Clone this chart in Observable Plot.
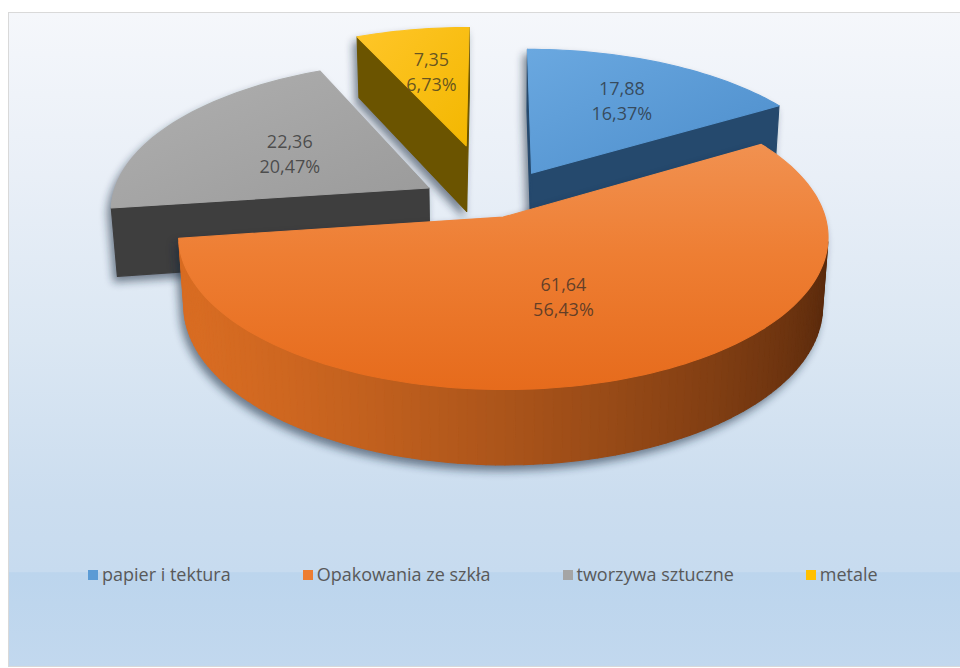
<!DOCTYPE html>
<html>
<head>
<meta charset="utf-8">
<script src="https://cdn.jsdelivr.net/npm/d3@7"></script>
<script src="https://cdn.jsdelivr.net/npm/@observablehq/plot@0.6"></script>
<style>
  html, body { margin: 0; padding: 0; background: #ffffff; }
  #page { position: relative; width: 960px; height: 668px; overflow: hidden; background: #ffffff; font-family: "Open Sans", sans-serif; }
  #frame {
    position: absolute; left: 8px; top: 12px; width: 990px; height: 653px;
    border: 1px solid #d9d9d9;
    background: linear-gradient(to bottom, #f5f7fb 0%, #e9eff7 25%, #dbe7f3 50%, #cbddef 75%, #c7dbef 85.6%, #bcd5ed 85.7%, #c2d8ee 100%);
  }
  #chart { position: absolute; left: 0; top: 0; }
  #legend { position: absolute; left: 88px; top: 562px; display: flex; gap: 72px; font-size: 18px; color: #595959; white-space: nowrap; }
  #legend .item { display: flex; align-items: center; }
  #legend .sw { width: 10px; height: 10px; margin-right: 4px; margin-top: 1px; }
</style>
</head>
<body>
<div id="page">
  <div id="frame"></div>
  <div id="chart"></div>
  <div id="legend"></div>
</div>
<script>
// ---- data ----
const categories = ["papier i tektura", "Opakowania ze szkła", "tworzywa sztuczne", "metale"];
const values = [17.88, 61.64, 22.36, 7.35];

// ---- styles ----
const legendColors = ["#5b9bd5", "#ed7d31", "#a5a5a5", "#ffc000"];
const topFill = ["url(#gBlue)", "url(#gOrange)", "url(#gGrey)", "url(#gYellow)"];
const sideLight = ["#2f5a85", "#d86c22", "#474747", "#7a6100"];
const sideDark = ["#1c3552", "#4f240a", "#2b2b2b", "#4a3b00"];
const radialColor = ["#25496d", "#8c4214", "#3e3e3e", "#6b5400"];
const explode = [0.25, 0.09, 0.235, 0.43];
const labelR = [0.65, 0.52, 0.53, 0.62];
const SHADOW = "#15263a";

// ---- 3D projection setup ----
const ALPHA = 27.5 * Math.PI / 180, SA = Math.sin(ALPHA), CA = Math.cos(ALPHA);
const DIST = 7, FOCAL = 2230, THICK = 0.245, CX = 493, CY = 204, W = 960, H = 540;
const LIGHT = 250 * Math.PI / 180;
const camU = 0, camV = -DIST * CA;

function proj(u, v, z) {
  const depth = DIST + v * CA - z * SA;
  return { x: u / depth, y: (v * SA + z * CA) / depth, depth };
}

const total = d3.sum(values);
const fmt = v => v.toFixed(2).replace(".", ",");
const arcs = d3.pie().sort(null).startAngle(0).endAngle(2 * Math.PI)(values);

const slices = arcs.map((p, i) => {
  const a0 = p.startAngle, a1 = p.endAngle, m = (a0 + a1) / 2;
  const ou = explode[i] * Math.sin(m), ov = explode[i] * Math.cos(m);
  const W3 = (t, r) => [ou + r * Math.sin(t), ov + r * Math.cos(t)];
  const P = (t, r, z) => { const [u, v] = W3(t, r); return proj(u, v, z); };
  const visible = (nAng, pu, pv) => Math.sin(nAng) * (camU - pu) + Math.cos(nAng) * (camV - pv) > 0;
  const faces = [];
  const addRadial = (t, nAng) => {
    const [pu, pv] = W3(t, 0.5);
    if (visible(nAng, pu, pv)) {
      faces.push({ pts: [P(t, 0, 0), P(t, 1, 0), P(t, 1, -THICK), P(t, 0, -THICK)], fill: radialColor[i] });
    }
  };
  addRadial(a0, a0 - Math.PI / 2);
  addRadial(a1, a1 + Math.PI / 2);
  const n = Math.max(6, Math.ceil((a1 - a0) / (Math.PI / 120)));
  const ts = d3.range(n + 1).map(k => a0 + (a1 - a0) * k / n);
  for (let k = 0; k < n; k++) {
    const tm = (ts[k] + ts[k + 1]) / 2;
    const [pu, pv] = W3(tm, 1);
    if (!visible(tm, pu, pv)) continue;
    const lt = (1 + Math.cos(tm - LIGHT)) / 2;
    faces.push({
      pts: [P(ts[k], 1, 0), P(ts[k + 1], 1, 0), P(ts[k + 1], 1, -THICK), P(ts[k], 1, -THICK)],
      fill: d3.interpolateRgb(sideDark[i], sideLight[i])(lt)
    });
  }
  faces.push({ pts: [P(a0, 0, 0), ...ts.map(t => P(t, 1, 0))], fill: topFill[i] });
  const lab = P(m, labelR[i], 0);
  return {
    i, faces, depth: proj(ou, ov, 0).depth, lab,
    text: fmt(values[i]) + "\n" + fmt(values[i] / total * 100) + "%"
  };
});

const order = slices.slice().sort((a, b) => b.depth - a.depth);
const marks = [];
for (const s of order) {
  const rows = [];
  s.faces.forEach((f, k) => f.pts.forEach(pt => rows.push({ id: s.i + "-" + k, x: pt.x, y: pt.y, fill: f.fill })));
  marks.push(Plot.line(rows, { x: "x", y: "y", z: "id", fill: SHADOW, stroke: SHADOW, strokeWidth: 1, curve: "linear-closed" }));
  marks.push(Plot.line(rows, { x: "x", y: "y", z: "id", fill: "fill", stroke: "fill", strokeWidth: 1.1, curve: "linear-closed" }));
}
marks.push(Plot.text(slices, {
  x: d => d.lab.x, y: d => d.lab.y, text: "text",
  fontSize: 18, lineHeight: 1.38, fontFamily: "Open Sans", fill: "#262626", fillOpacity: 0.7
}));

const svg = Plot.plot({
  width: W, height: H, margin: 0,
  x: { domain: [(0 - CX) / FOCAL, (W - CX) / FOCAL], axis: null },
  y: { domain: [(CY - H) / FOCAL, CY / FOCAL], axis: null },
  color: { type: "identity" },
  style: { background: "transparent", overflow: "visible" },
  marks
});
const ns = "http://www.w3.org/2000/svg";
const defs = document.createElementNS(ns, "defs");
defs.innerHTML = `
<filter id="soft" x="-20%" y="-20%" width="140%" height="140%"><feGaussianBlur stdDeviation="4"/></filter>
<linearGradient id="gBlue" x1="0" y1="0" x2="1" y2="1"><stop offset="0" stop-color="#6aa8e0"/><stop offset="1" stop-color="#4c8dcb"/></linearGradient>
<linearGradient id="gOrange" x1="0" y1="0" x2="0" y2="1"><stop offset="0" stop-color="#f19150"/><stop offset="0.45" stop-color="#ee7e33"/><stop offset="1" stop-color="#e66b1c"/></linearGradient>
<linearGradient id="gGrey" x1="0" y1="0" x2="1" y2="1"><stop offset="0" stop-color="#b0b0b0"/><stop offset="1" stop-color="#9a9a9a"/></linearGradient>
<linearGradient id="gYellow" x1="0" y1="0" x2="1" y2="1"><stop offset="0" stop-color="#ffc629"/><stop offset="1" stop-color="#f3b700"/></linearGradient>`;
svg.insertBefore(defs, svg.firstChild);
const lineGroups = Array.from(svg.querySelectorAll('g[aria-label="line"]'));
lineGroups.forEach((g, k) => {
  if (k % 2 === 0) {
    g.setAttribute("transform", "translate(-3,6)");
    g.setAttribute("opacity", "0.55");
    g.setAttribute("filter", "url(#soft)");
  }
});
document.getElementById("chart").appendChild(svg);

const legend = d3.select("#legend");
categories.forEach((c, i) => {
  const it = legend.append("div").attr("class", "item");
  it.append("div").attr("class", "sw").style("background", legendColors[i]);
  it.append("span").text(c);
});
</script>
</body>
</html>
